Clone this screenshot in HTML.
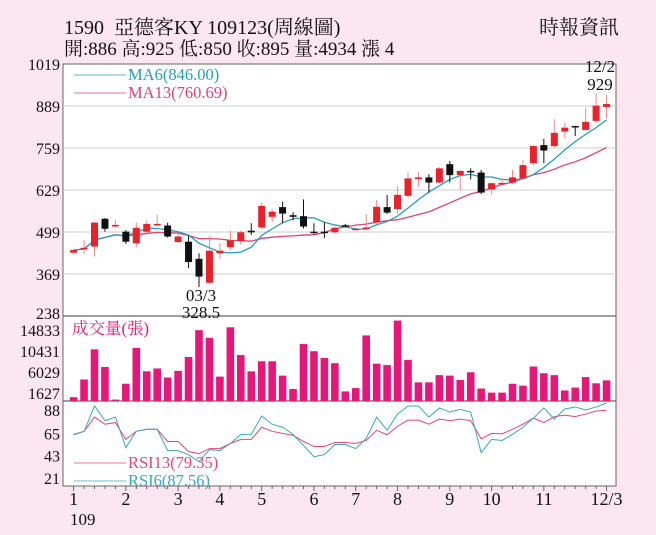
<!DOCTYPE html>
<html><head><meta charset="utf-8">
<style>
html,body{margin:0;padding:0;background:#fce6ef;}
svg{display:block;font-family:"Liberation Serif","Noto Serif CJK TC","Noto Serif CJK SC",serif;}
</style></head>
<body>
<svg id="chart" width="656" height="535" viewBox="0 0 656 535" xmlns="http://www.w3.org/2000/svg">
<rect x="0" y="0" width="656" height="535" fill="#fce6ef"/>
<text x="64" y="34" font-size="20" fill="#111">1590&#160; 亞德客KY 109123(周線圖)</text>
<text x="64" y="55" font-size="19" fill="#111">開:886 高:925 低:850 收:895 量:4934 漲 4</text>
<text x="619" y="34" font-size="20" fill="#111" text-anchor="end">時報資訊</text>
<rect x="63" y="64" width="553" height="422" fill="#fff" stroke="#666" stroke-width="1"/>
<g id="grid"></g>
<g id="marks"></g>
<g id="labels"></g>
</svg>
<script>
const weeks = 52;
const opens  = [435,446,454,540,516,500,464,500,520,519,468,469,416,342,433,452,471,503,513,546,576,551,548,500,500,498,520,507,510,529,576,570,611,663,668,652,709,675,688,683,631,648,652,665,712,768,765,810,827,815,843,886];
const closes = [443,450,528,509,521,469,512,524,524,485,485,406,361,441,441,473,498,498,580,562,556,546,516,496,499,512,518,509,513,577,559,614,665,668,652,696,675,688,685,621,650,651,668,706,765,751,806,822,823,840,890,895];
const highs  = [446,474,530,542,536,505,528,535,552,528,495,487,433,485,465,503,504,526,590,570,593,560,600,526,529,516,524,514,555,598,614,641,683,685,678,700,719,690,696,691,652,665,691,722,768,787,848,837,828,884,929,925];
const lows   = [432,430,423,500,514,462,452,490,516,482,465,387,328.5,338,416,443,460,490,508,530,526,535,510,492,480,496,514,505,505,525,555,555,603,640,621,650,652,629,662,616,614,642,648,660,705,712,760,789,796,812,838,850];
const volumes = [800,4500,10800,7100,300,3600,11100,6200,6800,4900,6300,9200,14800,13200,5100,15400,9600,6200,8300,8300,5300,2500,11900,10400,9000,7900,2000,2700,13700,7800,7500,16800,8600,3900,3900,5400,5300,4400,6000,2600,1750,1750,3600,3200,7200,5800,5400,2200,2800,5000,3700,4300];
const rsi6  = [63.5,66.8,92,77.5,81,51,67,69,69,48,48,44,37,49,48,55,64,64,82,74,71,64,53,42,44,54,54,50,60,81,68,84,92,92,81,90,86,88.6,86,46,59,58,64,71,80,90,79,89,91,88,91,95];
const rsi13 = [64,67,81,74,75.6,59,67,69,69,57,57,47,45,50,50,55,59,59,71,67,65,63,57,52,52,56,56,55,58,68,63.5,72,78,78,74,79,77.5,79,77.5,59.6,65,64.5,69,74,80,75.6,81.5,83,81.5,84,87,87.7];
const priceTicks = [1019,889,759,629,499,369,238];
const volTicks = [14833,10431,6029,1627];
const rsiTicks = [88,65,43,21];
const monthLabels = ["1","2","3","4","5","6","7","8","9","10","11","12/3"];
const monthWeeks = [0,5,10,14,18,23,27,31,36,40,45,51];

const NS="http://www.w3.org/2000/svg";
function mk(tag,attrs,parent){const e=document.createElementNS(NS,tag);for(const k in attrs)e.setAttribute(k,attrs[k]);parent.appendChild(e);return e;}
const X0=73.6, DX=10.45;
function xs(i){return X0+i*DX;}
function yp(v){return 64+(1019-v)*42/130;}
function yv(v){return 401-v*(401-330)/14833;}
function yr(v){return Math.max(401,410+(88-v)*68/67);}
const grid=document.getElementById('grid'), marks=document.getElementById('marks'), labels=document.getElementById('labels');

priceTicks.forEach((t,k)=>{
  const y=yp(t);
  if(k>0&&k<priceTicks.length-1){const l=mk('line',{x1:63,x2:616,y1:y,y2:y,stroke:'#ccc','stroke-width':1},grid);
  
  }
  const tx=mk('text',{x:60,y:Math.min(y+6,319),'font-size':16,'text-anchor':'end',fill:'#111'},labels);tx.textContent=t;
  
  
});
[316,401].forEach(y=>{const l=mk('line',{x1:63,x2:616,y1:y,y2:y,stroke:'#666','stroke-width':1.2},grid);
  
  });
volTicks.forEach(t=>{const tx=mk('text',{x:60,y:yv(t)+6,'font-size':16,'text-anchor':'end',fill:'#111'},labels);tx.textContent=t;
  
  });
rsiTicks.forEach(t=>{const tx=mk('text',{x:60,y:yr(t)+6,'font-size':16,'text-anchor':'end',fill:'#111'},labels);tx.textContent=t;
  
  });
for(let i=0;i<weeks;i++){const tk=mk('line',{x1:xs(i),x2:xs(i),y1:486,y2:monthWeeks.includes(i)?491:489,stroke:'#666','stroke-width':1},grid);
  
  }
monthLabels.forEach((m,k)=>{const tx=mk('text',{x:xs(monthWeeks[k]),y:505,'font-size':18,'text-anchor':'middle',fill:'#111'},labels);tx.textContent=m;
  
  });
{const tx=mk('text',{x:70,y:525,'font-size':17,fill:'#111'},labels);tx.textContent='109';
  
  }

function ma(n){return closes.map((c,i)=>{const s=closes.slice(Math.max(0,i-n+1),i+1);return s.reduce((a,b)=>a+b,0)/s.length;});}
function poly(vals,fy,color,name,w){const p=mk('polyline',{points:vals.map((v,i)=>xs(i)+','+fy(v)).join(' '),fill:'none',stroke:color,'stroke-width':w||1.3},marks);
  
  }
poly(ma(13),yp,'#d9457a','ma13-line');
poly(ma(6),yp,'#2a9db5','ma6-line');

for(let i=0;i<weeks;i++){
  const up=closes[i]>=opens[i];const col=up?'#e8212a':'#111';const wcol=up?'#f08a8a':'#111';
  const w=mk('line',{x1:xs(i),x2:xs(i),y1:yp(highs[i]),y2:yp(lows[i]),stroke:wcol,'stroke-width':1},marks);
  
  
  const top=yp(Math.max(opens[i],closes[i])),bot=yp(Math.min(opens[i],closes[i]));
  const b=mk('rect',{x:xs(i)-3.5,y:top,width:7,height:Math.max(1.5,bot-top),fill:col},marks);
  
  
  const v=mk('rect',{x:xs(i)-3.8,y:Math.max(316,yv(volumes[i])),width:7.6,height:401-Math.max(316,yv(volumes[i])),fill:'#e6177a'},marks);
  
  
}
poly(rsi13,yr,'#e0467f','rsi13-line',1);
poly(rsi6,yr,'#3aa7bb','rsi6-line',1);

function legend(x,y,text,color,name){
  const l=mk('line',{x1:74,x2:x-2,y1:y-5,y2:y-5,stroke:color,'stroke-width':0.8},labels);
  
  
  const t=mk('text',{x:x,y:y,'font-size':16.5,fill:color},labels);t.textContent=text;
  
  }
legend(128,80,'MA6(846.00)','#2a9db5','legend-ma6');
legend(128,98,'MA13(760.69)','#d9457a','legend-ma13');
legend(128,468,'RSI13(79.35)','#e0467f','legend-rsi13');
legend(128,486,'RSI6(87.56)','#3aa7bb','legend-rsi6');
{const t=mk('text',{x:72,y:334,'font-size':16.5,fill:'#e6177a'},labels);t.textContent='成交量(張)';
  
  }
[['03/3',201,301],['328.5',201,318],['12/2',600,72],['929',600,90]].forEach(a=>{
  const t=mk('text',{x:a[1],y:a[2],'font-size':17,'text-anchor':'middle',fill:'#111'},labels);t.textContent=a[0];
  
  });
</script>
</body></html>
